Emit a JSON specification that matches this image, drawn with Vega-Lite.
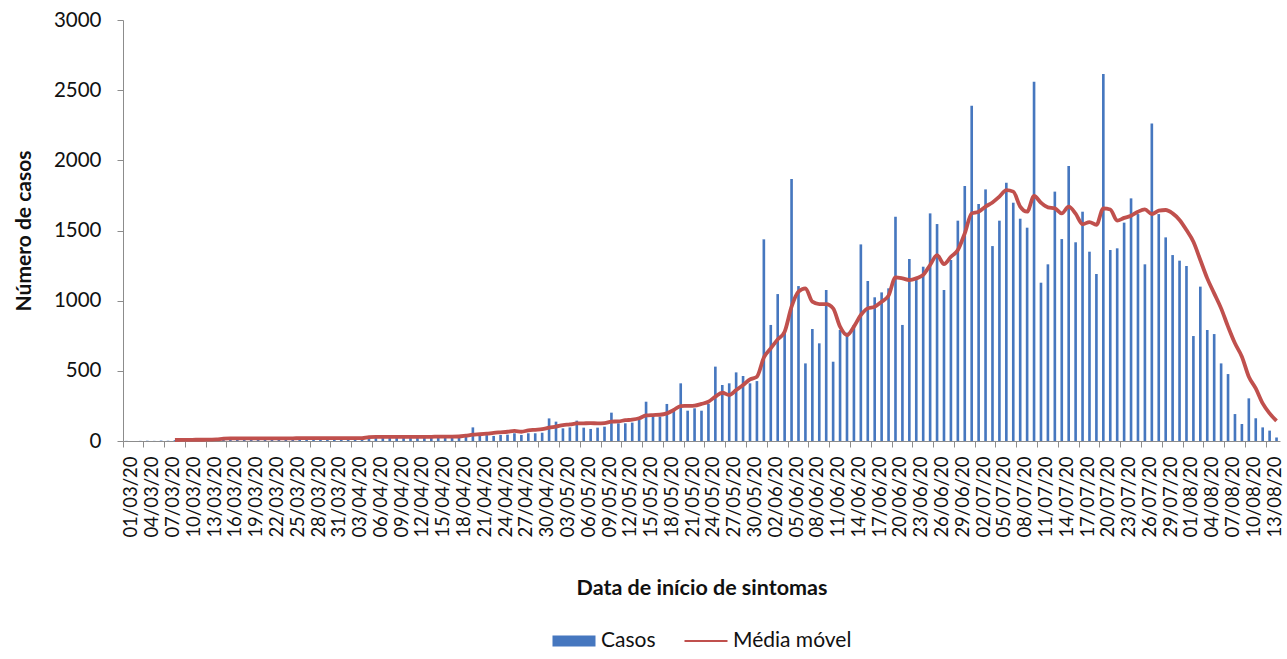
{
  "$schema": "https://vega.github.io/schema/vega-lite/v6.json",
  "width": 1157,
  "height": 421,
  "padding": {"left": 13, "top": 10, "right": 0, "bottom": 0},
  "config": {"view": {"stroke": null}, "font": "Lato", "legend": {"layout": {"bottom": {"anchor": "middle"}}}},
  "data": {"values": [
    {"data":"01/03/20","casos":1,"media":null},{"data":"02/03/20","casos":0,"media":null},{"data":"03/03/20","casos":1,"media":null},{"data":"04/03/20","casos":2,"media":null},{"data":"05/03/20","casos":1,"media":null},{"data":"06/03/20","casos":3,"media":null},{"data":"07/03/20","casos":2,"media":null},{"data":"08/03/20","casos":6,"media":7},{"data":"09/03/20","casos":9,"media":8},{"data":"10/03/20","casos":7,"media":8},
    {"data":"11/03/20","casos":10,"media":9},{"data":"12/03/20","casos":8,"media":9},{"data":"13/03/20","casos":12,"media":10},{"data":"14/03/20","casos":11,"media":11},{"data":"15/03/20","casos":22,"media":17},{"data":"16/03/20","casos":15,"media":18},{"data":"17/03/20","casos":19,"media":18},{"data":"18/03/20","casos":21,"media":18},{"data":"19/03/20","casos":17,"media":19},{"data":"20/03/20","casos":20,"media":19},
    {"data":"21/03/20","casos":18,"media":19},{"data":"22/03/20","casos":16,"media":19},{"data":"23/03/20","casos":23,"media":19},{"data":"24/03/20","casos":19,"media":19},{"data":"25/03/20","casos":21,"media":19},{"data":"26/03/20","casos":18,"media":20},{"data":"27/03/20","casos":20,"media":20},{"data":"28/03/20","casos":22,"media":20},{"data":"29/03/20","casos":17,"media":20},{"data":"30/03/20","casos":19,"media":20},
    {"data":"31/03/20","casos":24,"media":20},{"data":"01/04/20","casos":20,"media":20},{"data":"02/04/20","casos":18,"media":20},{"data":"03/04/20","casos":21,"media":21},{"data":"04/04/20","casos":23,"media":21},{"data":"05/04/20","casos":34,"media":28},{"data":"06/04/20","casos":28,"media":29},{"data":"07/04/20","casos":31,"media":29},{"data":"08/04/20","casos":27,"media":29},{"data":"09/04/20","casos":33,"media":29},
    {"data":"10/04/20","casos":29,"media":30},{"data":"11/04/20","casos":30,"media":30},{"data":"12/04/20","casos":26,"media":30},{"data":"13/04/20","casos":35,"media":30},{"data":"14/04/20","casos":31,"media":30},{"data":"15/04/20","casos":28,"media":31},{"data":"16/04/20","casos":32,"media":31},{"data":"17/04/20","casos":30,"media":31},{"data":"18/04/20","casos":36,"media":32},{"data":"19/04/20","casos":38,"media":38},
    {"data":"20/04/20","casos":97,"media":45},{"data":"21/04/20","casos":40,"media":48},{"data":"22/04/20","casos":42,"media":52},{"data":"23/04/20","casos":36,"media":58},{"data":"24/04/20","casos":43,"media":62},{"data":"25/04/20","casos":45,"media":66},{"data":"26/04/20","casos":55,"media":72},{"data":"27/04/20","casos":43,"media":66},{"data":"28/04/20","casos":55,"media":76},{"data":"29/04/20","casos":55,"media":80},
    {"data":"30/04/20","casos":59,"media":84},{"data":"01/05/20","casos":161,"media":95},{"data":"02/05/20","casos":138,"media":103},{"data":"03/05/20","casos":90,"media":113},{"data":"04/05/20","casos":97,"media":118},{"data":"05/05/20","casos":145,"media":125},{"data":"06/05/20","casos":95,"media":126},{"data":"07/05/20","casos":86,"media":127},{"data":"08/05/20","casos":95,"media":126},{"data":"09/05/20","casos":102,"media":128},
    {"data":"10/05/20","casos":202,"media":138},{"data":"11/05/20","casos":126,"media":140},{"data":"12/05/20","casos":126,"media":148},{"data":"13/05/20","casos":131,"media":152},{"data":"14/05/20","casos":154,"media":162},{"data":"15/05/20","casos":280,"media":182},{"data":"16/05/20","casos":178,"media":185},{"data":"17/05/20","casos":173,"media":187},{"data":"18/05/20","casos":264,"media":197},{"data":"19/05/20","casos":226,"media":221},
    {"data":"20/05/20","casos":411,"media":249},{"data":"21/05/20","casos":216,"media":250},{"data":"22/05/20","casos":233,"media":252},{"data":"23/05/20","casos":216,"media":264},{"data":"24/05/20","casos":264,"media":280},{"data":"25/05/20","casos":530,"media":316},{"data":"26/05/20","casos":399,"media":344},{"data":"27/05/20","casos":411,"media":328},{"data":"28/05/20","casos":489,"media":363},{"data":"29/05/20","casos":463,"media":399},
    {"data":"30/05/20","casos":411,"media":439},{"data":"31/05/20","casos":427,"media":458},{"data":"01/06/20","casos":1437,"media":595},{"data":"02/06/20","casos":827,"media":660},{"data":"03/06/20","casos":1047,"media":724},{"data":"04/06/20","casos":779,"media":779},{"data":"05/06/20","casos":1867,"media":957},{"data":"06/06/20","casos":1104,"media":1064},{"data":"07/06/20","casos":553,"media":1088},{"data":"08/06/20","casos":798,"media":993},
    {"data":"09/06/20","casos":696,"media":976},{"data":"10/06/20","casos":1076,"media":976},{"data":"11/06/20","casos":565,"media":945},{"data":"12/06/20","casos":791,"media":815},{"data":"13/06/20","casos":772,"media":755},{"data":"14/06/20","casos":827,"media":815},{"data":"15/06/20","casos":1401,"media":898},{"data":"16/06/20","casos":1140,"media":945},{"data":"17/06/20","casos":1024,"media":957},{"data":"18/06/20","casos":1059,"media":993},
    {"data":"19/06/20","casos":1088,"media":1036},{"data":"20/06/20","casos":1598,"media":1166},{"data":"21/06/20","casos":827,"media":1159},{"data":"22/06/20","casos":1297,"media":1147},{"data":"23/06/20","casos":1147,"media":1159},{"data":"24/06/20","casos":1242,"media":1183},{"data":"25/06/20","casos":1622,"media":1254},{"data":"26/06/20","casos":1546,"media":1325},{"data":"27/06/20","casos":1076,"media":1261},{"data":"28/06/20","casos":1290,"media":1313},
    {"data":"29/06/20","casos":1570,"media":1361},{"data":"30/06/20","casos":1817,"media":1480},{"data":"01/07/20","casos":2389,"media":1622},{"data":"02/07/20","casos":1689,"media":1634},{"data":"03/07/20","casos":1793,"media":1670},{"data":"04/07/20","casos":1389,"media":1700},{"data":"05/07/20","casos":1570,"media":1741},{"data":"06/07/20","casos":1841,"media":1788},{"data":"07/07/20","casos":1698,"media":1777},{"data":"08/07/20","casos":1584,"media":1670},
    {"data":"09/07/20","casos":1520,"media":1634},{"data":"10/07/20","casos":2560,"media":1746},{"data":"11/07/20","casos":1128,"media":1698},{"data":"12/07/20","casos":1259,"media":1665},{"data":"13/07/20","casos":1777,"media":1658},{"data":"14/07/20","casos":1439,"media":1622},{"data":"15/07/20","casos":1959,"media":1670},{"data":"16/07/20","casos":1416,"media":1620},{"data":"17/07/20","casos":1634,"media":1545},{"data":"18/07/20","casos":1349,"media":1560},
    {"data":"19/07/20","casos":1190,"media":1540},{"data":"20/07/20","casos":2615,"media":1658},{"data":"21/07/20","casos":1361,"media":1650},{"data":"22/07/20","casos":1373,"media":1570},{"data":"23/07/20","casos":1556,"media":1590},{"data":"24/07/20","casos":1729,"media":1605},{"data":"25/07/20","casos":1617,"media":1634},{"data":"26/07/20","casos":1259,"media":1650},{"data":"27/07/20","casos":2263,"media":1617},{"data":"28/07/20","casos":1617,"media":1641},
    {"data":"29/07/20","casos":1451,"media":1646},{"data":"30/07/20","casos":1325,"media":1622},{"data":"31/07/20","casos":1285,"media":1575},{"data":"01/08/20","casos":1247,"media":1503},{"data":"02/08/20","casos":748,"media":1420},{"data":"03/08/20","casos":1100,"media":1290},{"data":"04/08/20","casos":791,"media":1159},{"data":"05/08/20","casos":762,"media":1052},{"data":"06/08/20","casos":553,"media":945},{"data":"07/08/20","casos":477,"media":815},
    {"data":"08/08/20","casos":192,"media":696},{"data":"09/08/20","casos":121,"media":601},{"data":"10/08/20","casos":304,"media":458},{"data":"11/08/20","casos":162,"media":375},{"data":"12/08/20","casos":97,"media":268},{"data":"13/08/20","casos":74,"media":197},{"data":"14/08/20","casos":25,"media":143}
  ]},
  "encoding": {
    "x": {
      "field": "data", "type": "ordinal", "sort": null,
      "scale": {"paddingInner": 0, "paddingOuter": 0},
      "axis": {
        "values": ["01/03/20","04/03/20","07/03/20","10/03/20","13/03/20","16/03/20","19/03/20","22/03/20","25/03/20","28/03/20","31/03/20","03/04/20","06/04/20","09/04/20","12/04/20","15/04/20","18/04/20","21/04/20","24/04/20","27/04/20","30/04/20","03/05/20","06/05/20","09/05/20","12/05/20","15/05/20","18/05/20","21/05/20","24/05/20","27/05/20","30/05/20","02/06/20","05/06/20","08/06/20","11/06/20","14/06/20","17/06/20","20/06/20","23/06/20","26/06/20","29/06/20","02/07/20","05/07/20","08/07/20","11/07/20","14/07/20","17/07/20","20/07/20","23/07/20","26/07/20","29/07/20","01/08/20","04/08/20","07/08/20","10/08/20","13/08/20"],
        "bandPosition": 0,
        "labelAngle": -90,
        "labelOffset": 5,
        "labelPadding": 9,
        "labelFontSize": 18.5,
        "labelColor": "#111111",
        "tickSize": 6,
        "tickColor": "#8c8c8c",
        "domainColor": "#8c8c8c",
        "grid": false,
        "title": "Data de início de sintomas",
        "titleFontSize": 21.5,
        "titleFontWeight": "bold",
        "titleColor": "#111111",
        "titlePadding": 40
      }
    }
  },
  "layer": [
    {
      "mark": {"type": "bar", "width": {"band": 0.38}},
      "encoding": {
        "y": {
          "field": "casos", "type": "quantitative",
          "scale": {"domain": [0, 3000]},
          "axis": {
            "values": [0, 500, 1000, 1500, 2000, 2500, 3000],
            "format": "d",
            "labelFontSize": 20.5,
            "labelColor": "#111111",
            "labelPadding": 16,
            "tickSize": 6,
            "tickColor": "#8c8c8c",
            "domainColor": "#8c8c8c",
            "grid": false,
            "title": "Número de casos",
            "titleFontSize": 21,
            "titleFontWeight": "bold",
            "titleColor": "#111111",
            "titlePadding": 19
          }
        },
        "color": {
          "datum": "Casos",
          "scale": {"domain": ["Casos", "Média móvel"], "range": ["#4677BF", "#C0504D"]},
          "legend": {
            "orient": "bottom",
            "direction": "horizontal",
            "title": null,
            "offset": 20,
            "symbolSize": 1850,
            "labelFontSize": 21,
            "labelColor": "#111111",
            "labelOffset": 5,
            "columnPadding": 28,
            "encode": {
              "symbols": {
                "update": {
                  "shape": {"signal": "datum.value === 'Casos' ? 'M-1,-0.26H1V0.26H-1Z' : 'M-1,-0.045H1V0.045H-1Z'"},
                  "fill": {"scale": "color", "field": "value"},
                  "stroke": {"value": "transparent"},
                  "strokeWidth": {"value": 0},
                  "opacity": {"value": 1},
                  "fillOpacity": {"value": 1}
                }
              }
            }
          }
        }
      }
    },
    {
      "mark": {"type": "line", "strokeWidth": 3.8, "interpolate": "monotone"},
      "encoding": {
        "y": {"field": "media", "type": "quantitative"},
        "color": {"datum": "Média móvel"}
      }
    }
  ]
}
